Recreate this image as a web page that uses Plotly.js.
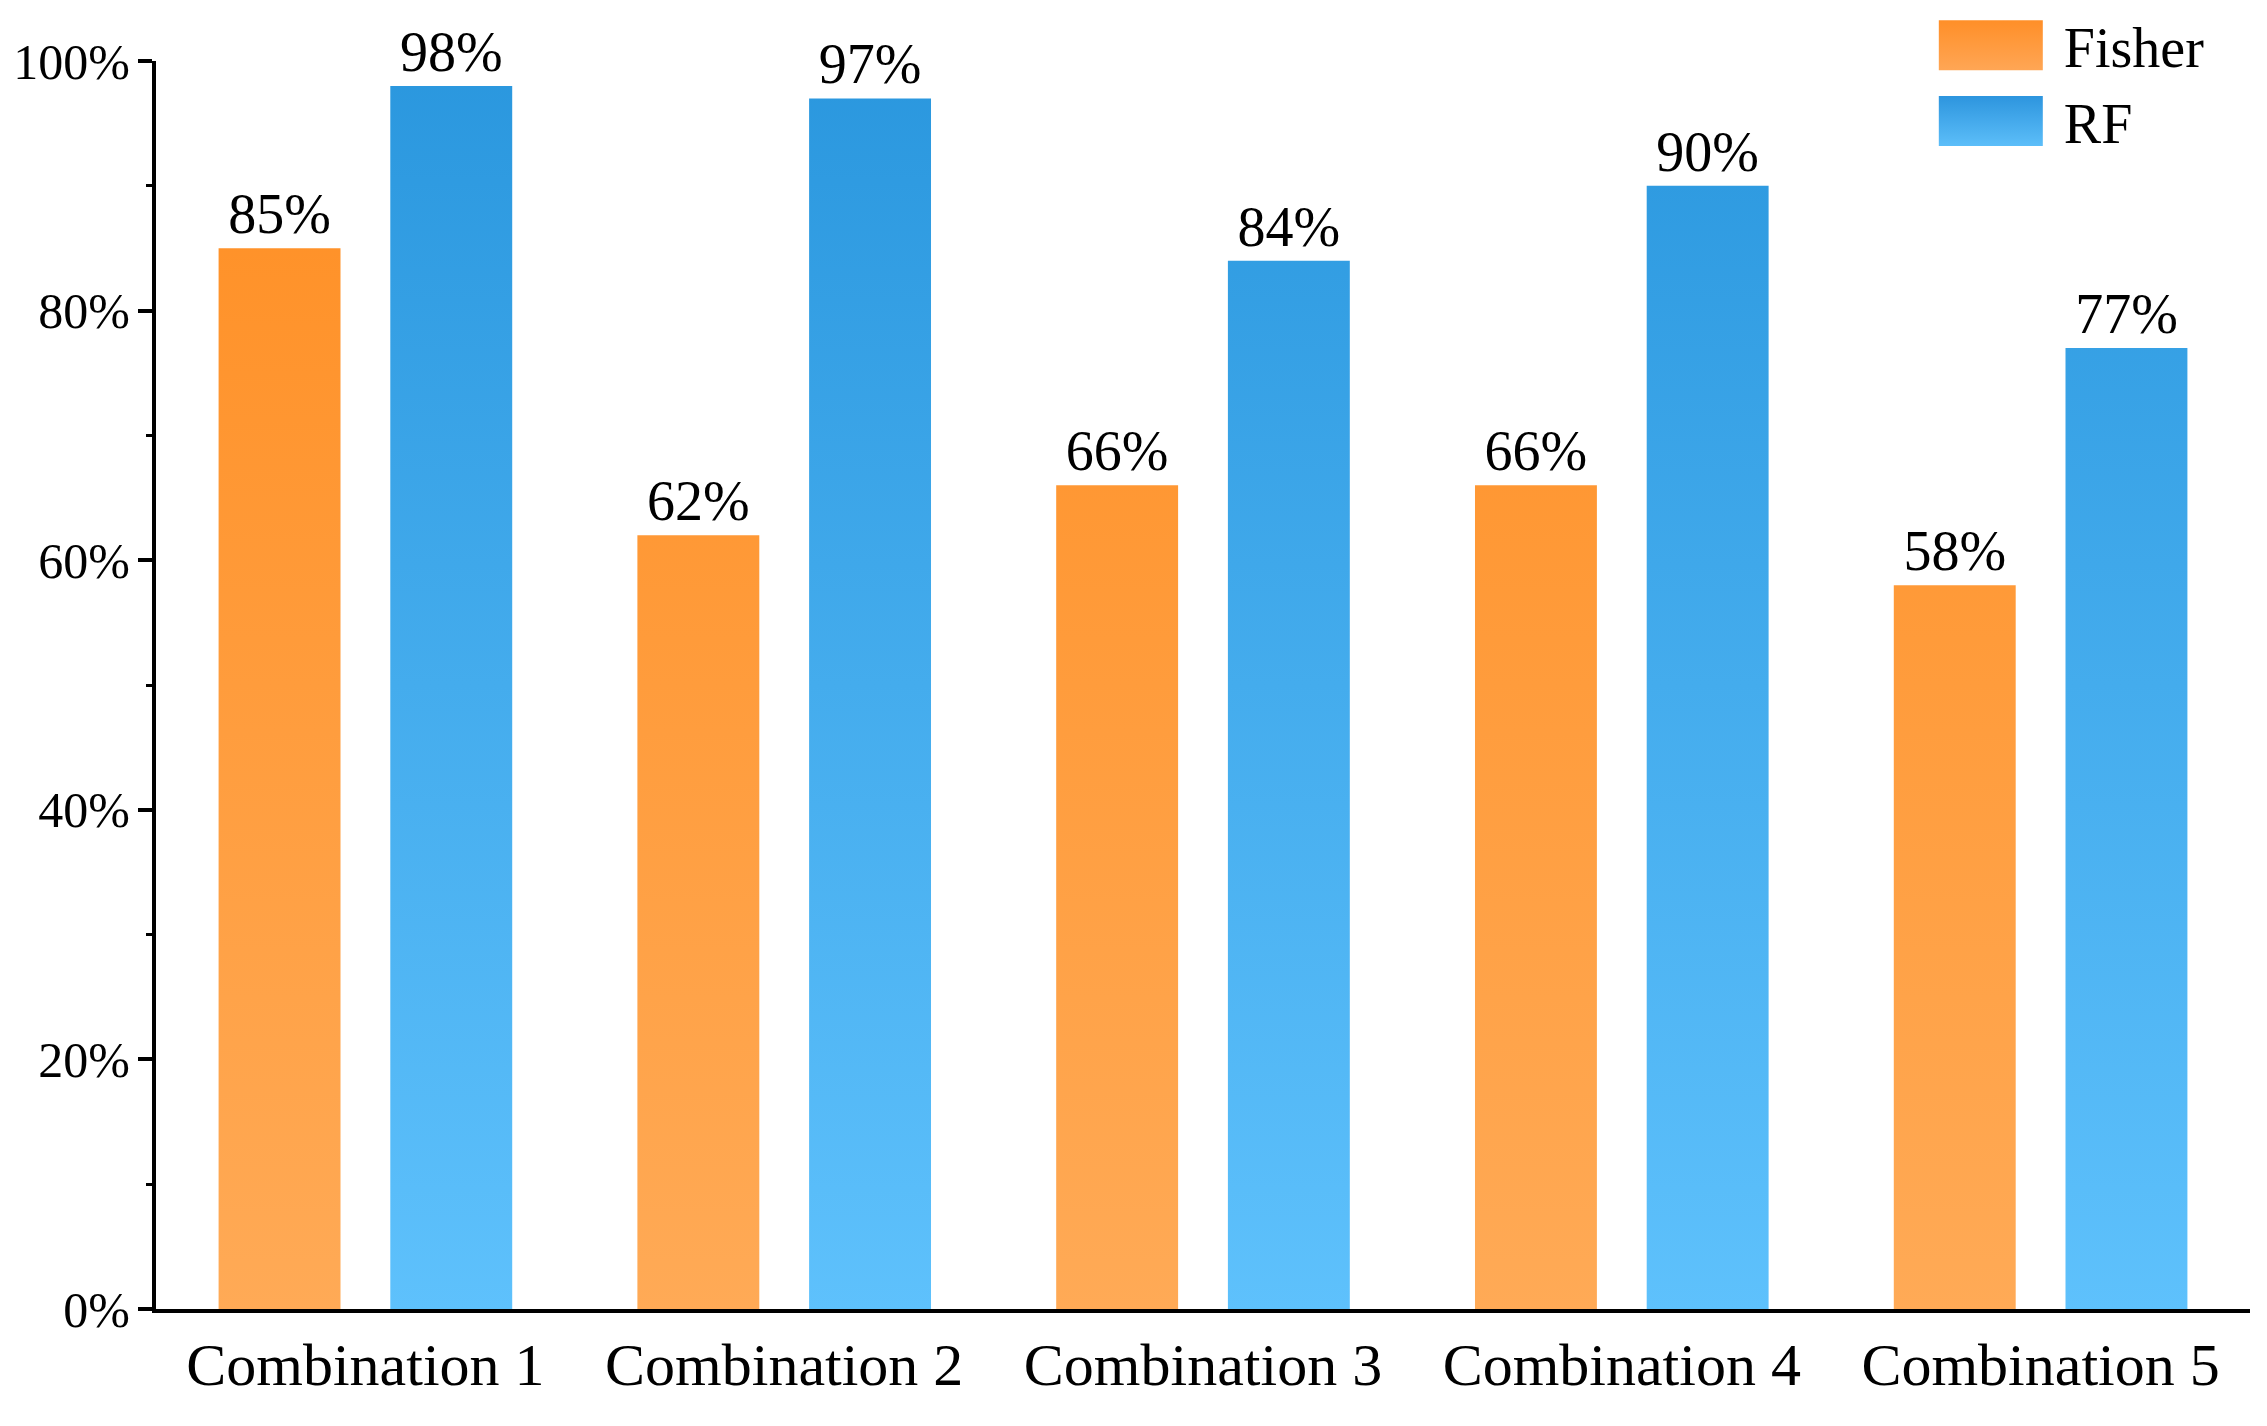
<!DOCTYPE html>
<html>
<head>
<meta charset="utf-8">
<script src="https://cdn.plot.ly/plotly-3.0.1.min.js"></script>
<style>
  html, body { margin: 0; padding: 0; background: #fff; }
  #chart { width: 2267px; height: 1426px; }
</style>
</head>
<body>
<div id="chart"></div>
<script>
var categories = ['Combination 1', 'Combination 2', 'Combination 3', 'Combination 4', 'Combination 5'];
var fisher = [0.85, 0.62, 0.66, 0.66, 0.58];
var rf = [0.98, 0.97, 0.84, 0.90, 0.77];
var yTicks = [0, 0.2, 0.4, 0.6, 0.8, 1.0];

var serif = 'Liberation Serif, Times New Roman, serif';

var fisherTrace = {
    type: 'bar',
    name: 'Fisher',
    x: categories,
    y: fisher,
    marker: { color: '#ff9b3c', line: { width: 0 } },
    texttemplate: '%{y:.0%}',
    textposition: 'outside',
    constraintext: 'none',
    cliponaxis: false,
    textfont: { family: serif, size: 56, color: '#000' }
};
var rfTrace = {
    type: 'bar',
    name: 'RF',
    x: categories,
    y: rf,
    marker: { color: '#44a9ec', line: { width: 0 } },
    texttemplate: '%{y:.0%}',
    textposition: 'outside',
    constraintext: 'none',
    cliponaxis: false,
    textfont: { family: serif, size: 56, color: '#000' }
};

var layout = {
    width: 2267,
    height: 1426,
    margin: { l: 156, r: 17, t: 61, b: 117, autoexpand: false },
    paper_bgcolor: '#fff',
    plot_bgcolor: '#fff',
    font: { family: serif, color: '#000', size: 52 },
    barmode: 'group',
    bargap: 0.18,
    bargroupgap: 0.29,
    showlegend: true,
    legend: {
        x: 0.849,
        xanchor: 'left',
        y: 1.047,
        yanchor: 'top',
        bgcolor: 'rgba(0,0,0,0)',
        borderwidth: 0,
        itemwidth: 120,
        font: { family: serif, size: 56, color: '#000' }
    },
    xaxis: {
        type: 'category',
        range: [-0.5, 4.5],
        showline: true,
        linecolor: '#000',
        linewidth: 4,
        ticks: '',
        showgrid: false,
        zeroline: false,
        ticklabelstandoff: 0,
        tickfont: { family: serif, size: 60, color: '#000' }
    },
    yaxis: {
        range: [0, 1],
        tickvals: yTicks,
        tickformat: '.0%',
        showline: true,
        linecolor: '#000',
        linewidth: 4,
        ticks: 'outside',
        ticklen: 14,
        tickwidth: 4,
        tickcolor: '#000',
        minor: { dtick: 0.1, ticks: 'outside', ticklen: 6, tickwidth: 3, tickcolor: '#000' },
        showgrid: false,
        zeroline: false,
        ticklabelstandoff: -2,
        tickfont: { family: serif, size: 50, color: '#000' }
    }
};

var gd = document.getElementById('chart');

function makeGrad(defs, id, top, bottom, user, h) {
    var ns = 'http://www.w3.org/2000/svg';
    var g = document.createElementNS(ns, 'linearGradient');
    g.setAttribute('id', id);
    g.setAttribute('x1', '0');
    g.setAttribute('x2', '0');
    if (user) {
        g.setAttribute('gradientUnits', 'userSpaceOnUse');
        g.setAttribute('y1', '0');
        g.setAttribute('y2', String(h));
    } else {
        g.setAttribute('y1', '0');
        g.setAttribute('y2', '1');
    }
    [[0, top], [1, bottom]].forEach(function(s){
        var st = document.createElementNS(ns, 'stop');
        st.setAttribute('offset', String(s[0]));
        st.setAttribute('stop-color', s[1]);
        g.appendChild(st);
    });
    defs.appendChild(g);
}

// bars and legend boxes have a vertical gradient in the original
function paintGradients() {
    var svg = gd.querySelector('.main-svg');
    var defs = svg.querySelector('defs');
    var h = gd._fullLayout._size.h;
    makeGrad(defs, 'gFisher', '#ff8e22', '#ffaa56', true, h);
    makeGrad(defs, 'gRF', '#2a97de', '#5ec1fc', true, h);
    makeGrad(defs, 'lFisher', '#ff8f28', '#ffa655', false);
    makeGrad(defs, 'lRF', '#2d95de', '#5cbef9', false);

    var barTraces = gd.querySelectorAll('.barlayer .trace');
    var ids = ['gFisher', 'gRF'];
    barTraces.forEach(function(t, i){
        t.querySelectorAll('.point path').forEach(function(p){
            p.style.fill = 'url(#' + ids[i] + ')';
        });
    });

    var legItems = gd.querySelectorAll('.legend .traces');
    var lids = ['lFisher', 'lRF'];
    legItems.forEach(function(t, i){
        var p = t.querySelector('.legendpoints path');
        if (!p) return;
        p.setAttribute('d', 'M-60,-25H44V25H-60Z');
        p.style.fill = 'url(#' + lids[i] + ')';
        p.style.stroke = 'none';
    });
}

Plotly.newPlot(gd, [fisherTrace, rfTrace], layout, { staticPlot: true, displayModeBar: false })
    .then(paintGradients);
</script>
</body>
</html>
